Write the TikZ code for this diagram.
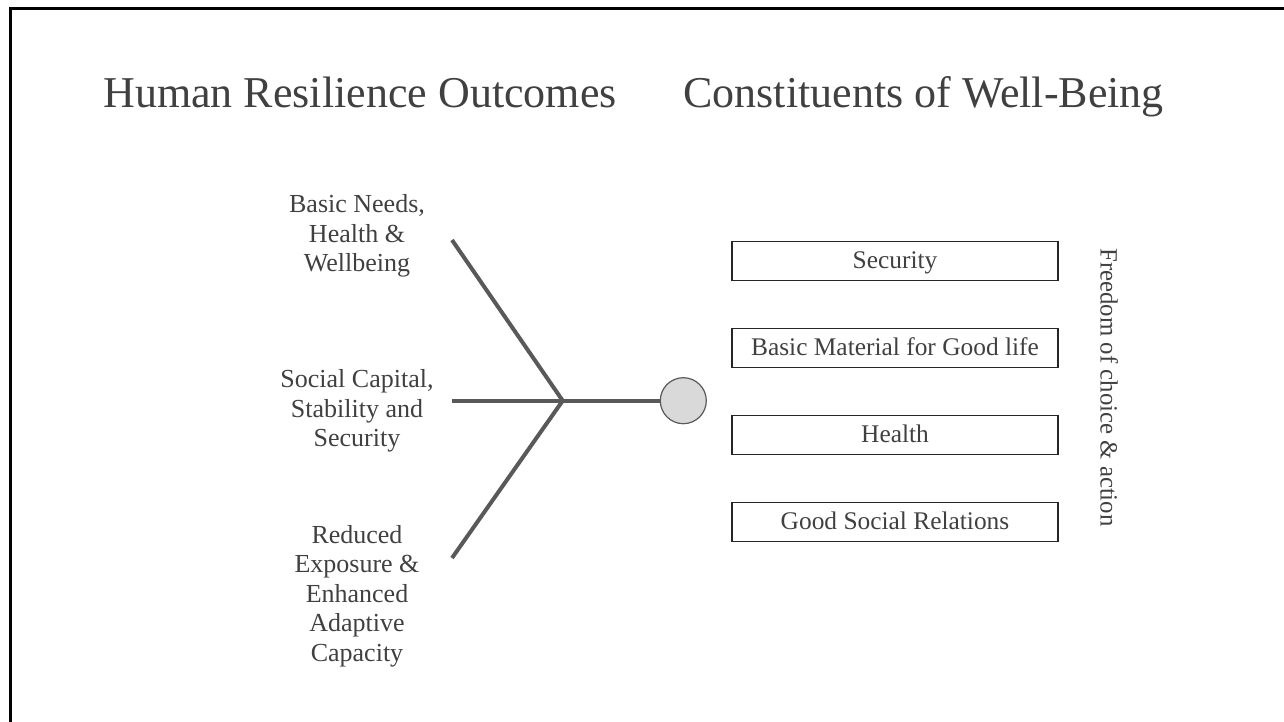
\documentclass[tikz,border=0pt]{standalone}
\usepackage{fontspec}
\setmainfont{Liberation Serif}

\definecolor{inkgray}{HTML}{404040}
\definecolor{spokegray}{HTML}{595959}
\definecolor{hubfill}{HTML}{D9D9D9}

\tikzset{
    heading/.style={font=\fontsize{22}{26}\selectfont, text=inkgray, anchor=base west, inner sep=0pt},
    outcome/.style={font=\fontsize{13}{14.75}\selectfont, text=inkgray, align=center, inner sep=0pt},
    constituent/.style={draw=black!85, line width=0.6pt, minimum width=163pt, minimum height=19.25pt,
        font=\fontsize{12.7}{15}\selectfont, text=inkgray, inner sep=0pt,
        text height=9.5pt, text depth=2.5pt},
    spoke/.style={draw=spokegray, line width=2pt},
}

\begin{document}
\begin{tikzpicture}[x=0.5pt, y=-0.5pt]
        \useasboundingbox (0,0) rectangle (1284,722);

        % Frame (runs off the page right and bottom)
        \draw[line width=1.5pt] (10.5,722) -- (10.5,8.5) -- (1284,8.5);

        % Headings
        \node[heading] (hro) at (103,107) {Human Resilience Outcomes};
        \node[heading] (cwb) at (683,107) {Constituents of Well-Being};

        % Outcome labels
        \node[outcome] (needs) at (357,236) {Basic Needs,\\Health \&\\Wellbeing};
        \node[outcome] (social) at (357,411) {Social Capital,\\Stability and\\Security};
        \node[outcome] (exposure) at (357,596) {Reduced\\Exposure \&\\Enhanced\\Adaptive\\Capacity};

        % Spokes into the hub
        \coordinate (hub) at (562.7,400.7);
        \coordinate (top) at (452,240);
        \coordinate (mid) at (452,400.7);
        \coordinate (bot) at (452,558);
        \node[circle, draw=spokegray, line width=0.6pt, fill=hubfill, minimum size=23pt, inner sep=0pt]
            (goal) at (683.3,400.7) {};

        \draw[spoke] (top) -- (hub) -- (bot);
        \draw[spoke] (mid) -- (hub) -- (goal);

        % Constituent boxes
        \foreach \i/\label in {
            0/Security,
            1/Basic Material for Good life,
            2/Health,
            3/Good Social Relations
        } {
            \pgfmathsetmacro\ypos{261 + \i * 87}
            \node[constituent] (box\i) at (895,\ypos) {\label};
        }

        % Side label
        \node[font=\fontsize{12.4}{15}\selectfont, text=inkgray, rotate=-90, anchor=base west, inner sep=0pt]
            (freedom) at (1100.5,248) {Freedom of choice \& action};
\end{tikzpicture}
\end{document}
